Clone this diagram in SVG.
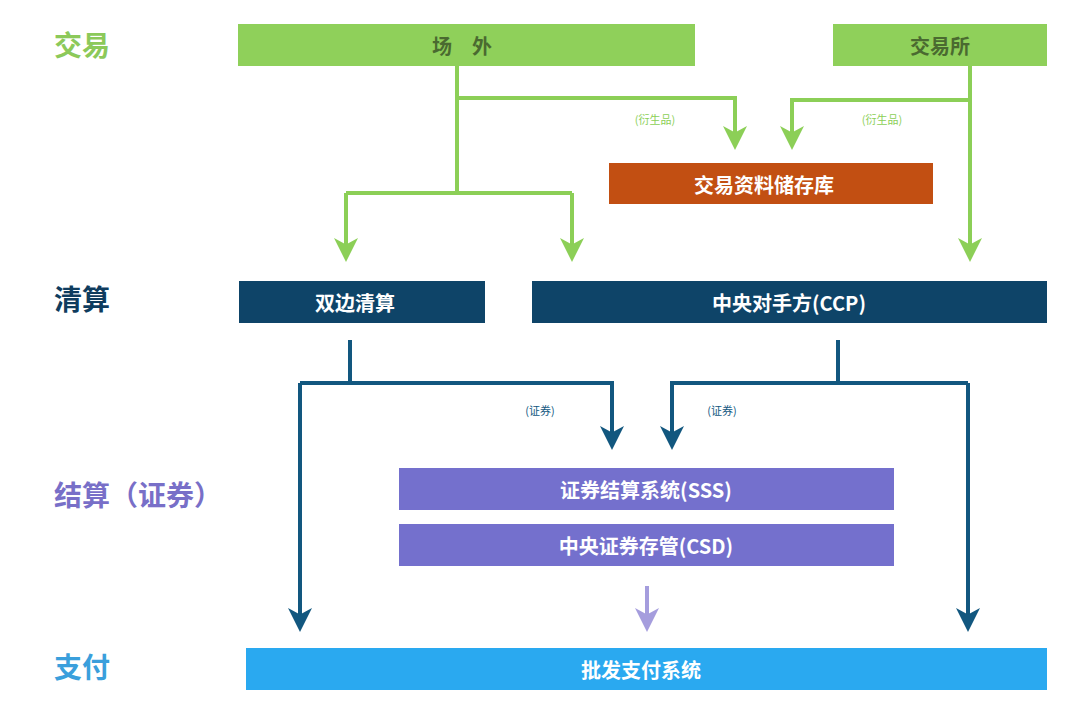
<svg xmlns="http://www.w3.org/2000/svg" width="1080" height="704" viewBox="0 0 1080 704">
<defs>
<style>
.t{font-family:"Noto Sans CJK SC","Noto Sans",sans-serif;font-weight:bold;}
.lab{font-size:28px;}
.box{font-size:20px;fill:#ffffff;text-anchor:middle;dominant-baseline:central;}
.small{font-size:11px;font-weight:normal;}
.g{stroke:#8ccf57;stroke-width:4;fill:none;}
.b{stroke:#12577f;stroke-width:4;fill:none;}
.p{stroke:#a59ddd;stroke-width:4;fill:none;}
</style>
<marker id="ag" markerWidth="6" markerHeight="6" refX="3" refY="3" orient="auto" markerUnits="strokeWidth"><path d="M0,0 L3,1.6 L6,0 L3,6 Z" fill="#8ccf57" transform="rotate(-90 3 3)"/></marker>
<marker id="ab" markerWidth="6" markerHeight="6" refX="3" refY="3" orient="auto" markerUnits="strokeWidth"><path d="M0,0 L3,1.6 L6,0 L3,6 Z" fill="#12577f" transform="rotate(-90 3 3)"/></marker>
<marker id="ap" markerWidth="6" markerHeight="6" refX="3" refY="3" orient="auto" markerUnits="strokeWidth"><path d="M0,0 L3,1.6 L6,0 L3,6 Z" fill="#a59ddd" transform="rotate(-90 3 3)"/></marker>
</defs>
<rect width="1080" height="704" fill="#ffffff"/>
<g id="layer-labels" class="t lab">
<text x="54" y="56" fill="#8cc95a">交易</text>
<text x="54" y="310" fill="#0f3c5e">清算</text>
<text x="54" y="506" fill="#786fc8">结算（证券）</text>
<text x="54" y="678" fill="#3a9fdc">支付</text>
</g>
<g id="connectors">
<path class="g" d="M457,66 V193"/>
<path class="g" d="M457,98 H735 V138" marker-end="url(#ag)"/>
<path class="g" d="M346,193 H572"/>
<path class="g" d="M346,193 V250" marker-end="url(#ag)"/>
<path class="g" d="M572,193 V250" marker-end="url(#ag)"/>
<path class="g" d="M970,66 V250" marker-end="url(#ag)"/>
<path class="g" d="M970,100 H792 V138" marker-end="url(#ag)"/>
<path class="b" d="M350,340 V383"/>
<path class="b" d="M300,383 H612 V438" marker-end="url(#ab)"/>
<path class="b" d="M300,383 V620" marker-end="url(#ab)"/>
<path class="b" d="M838,340 V383"/>
<path class="b" d="M968,383 H672 V438" marker-end="url(#ab)"/>
<path class="b" d="M968,383 V620" marker-end="url(#ab)"/>
<path class="p" d="M647,586 V620" marker-end="url(#ap)"/>
<text class="t small" x="655" y="124" fill="#8ccf57" text-anchor="middle">(衍生品)</text>
<text class="t small" x="882" y="124" fill="#8ccf57" text-anchor="middle">(衍生品)</text>
<text class="t small" x="540" y="415" fill="#12577f" text-anchor="middle">(证券)</text>
<text class="t small" x="722" y="415" fill="#12577f" text-anchor="middle">(证券)</text>
</g>
<g id="node-otc"><rect x="238" y="24" width="457" height="42" fill="#8fd05a"/><text class="t box" x="462" y="45" style="fill:#4a6a30">场　外</text></g>
<g id="node-exchange"><rect x="833" y="24" width="214" height="42" fill="#8fd05a"/><text class="t box" x="940" y="45" style="fill:#4a6a30">交易所</text></g>
<g id="node-tr"><rect x="609" y="163" width="324" height="41" fill="#c24f12"/><text class="t box" x="764" y="184">交易资料储存库</text></g>
<g id="node-bilateral"><rect x="239" y="281" width="246" height="42" fill="#0e4468"/><text class="t box" x="355" y="302">双边清算</text></g>
<g id="node-ccp"><rect x="532" y="281" width="515" height="42" fill="#0e4468"/><text class="t box" x="789" y="302">中央对手方(CCP)</text></g>
<g id="node-sss"><rect x="399" y="468" width="495" height="42" fill="#7470cd"/><text class="t box" x="646" y="489">证券结算系统(SSS)</text></g>
<g id="node-csd"><rect x="399" y="524" width="495" height="42" fill="#7470cd"/><text class="t box" x="646" y="545">中央证券存管(CSD)</text></g>
<g id="node-payment"><rect x="246" y="648" width="801" height="42" fill="#2aa9f0"/><text class="t box" x="641" y="669">批发支付系统</text></g>
</svg>
